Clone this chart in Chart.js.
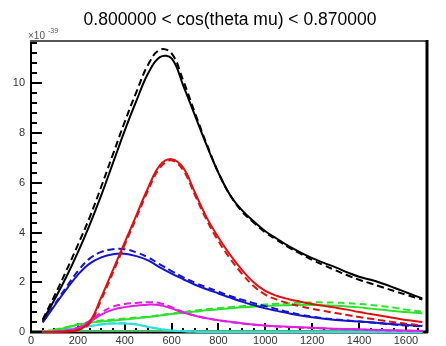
<!DOCTYPE html>
<html>
<head>
<meta charset="utf-8">
<script src="https://cdn.jsdelivr.net/npm/chart.js@4.4.1/dist/chart.umd.min.js"></script>
<style>
  html, body { margin: 0; padding: 0; background: #fff; }
  #wrap { width: 446px; height: 346px; }
</style>
</head>
<body>
<div id="wrap"><canvas id="chart" width="446" height="346"></canvas></div>
<script>
// muon momentum bin centres
const momentum = [50, 100, 150, 200, 250, 300, 350, 400, 450, 500, 550, 600, 650, 700, 750, 800,
  850, 900, 950, 1000, 1050, 1100, 1150, 1200, 1250, 1300, 1350, 1400, 1450, 1500, 1550, 1600, 1670];

// cross sections in units of 1e-39; "Sim" solid, "Ref" dashed
const totalSim = [0.45, 1.3, 2.2, 3.2, 4.3, 5.5, 6.8, 8.1, 9.3, 10.4, 11.05, 11.0, 9.9, 8.7, 7.5, 6.4,
  5.5, 4.9, 4.45, 4.05, 3.75, 3.45, 3.2, 2.97, 2.78, 2.6, 2.4, 2.22, 2.1, 1.95, 1.78, 1.6, 1.35];
const totalRef = [0.5, 1.45, 2.45, 3.5, 4.6, 5.85, 7.15, 8.45, 9.65, 10.75, 11.35, 11.2, 10.1, 8.8, 7.55, 6.4,
  5.5, 4.85, 4.4, 4.0, 3.7, 3.4, 3.15, 2.9, 2.68, 2.48, 2.28, 2.1, 1.95, 1.8, 1.65, 1.5, 1.3];

const qeSim = [0.0, 0.0, 0.02, 0.08, 0.4, 1.4, 2.5, 3.6, 4.7, 5.8, 6.7, 6.95, 6.6, 5.6, 4.6, 3.8,
  3.1, 2.5, 2.0, 1.65, 1.45, 1.32, 1.22, 1.13, 1.05, 0.98, 0.9, 0.8, 0.72, 0.64, 0.56, 0.48, 0.4];
const qeRef = [0.0, 0.0, 0.02, 0.08, 0.35, 1.3, 2.4, 3.5, 4.6, 5.7, 6.6, 6.9, 6.5, 5.5, 4.5, 3.65,
  2.95, 2.35, 1.85, 1.5, 1.3, 1.15, 1.03, 0.93, 0.84, 0.76, 0.68, 0.6, 0.53, 0.46, 0.39, 0.33, 0.27];

const resSim = [0.38, 1.05, 1.7, 2.3, 2.75, 3.0, 3.13, 3.15, 3.05, 2.88, 2.6, 2.35, 2.12, 1.9, 1.72, 1.55,
  1.38, 1.22, 1.08, 0.95, 0.85, 0.75, 0.66, 0.59, 0.53, 0.48, 0.45, 0.42, 0.39, 0.35, 0.31, 0.28, 0.24];
const resRef = [0.4, 1.1, 1.8, 2.45, 2.95, 3.22, 3.33, 3.33, 3.2, 3.0, 2.72, 2.45, 2.2, 1.98, 1.8, 1.62,
  1.45, 1.3, 1.16, 1.04, 0.92, 0.8, 0.7, 0.62, 0.55, 0.5, 0.46, 0.42, 0.38, 0.34, 0.3, 0.26, 0.22];

const mecSim = [0.0, 0.02, 0.05, 0.15, 0.4, 0.7, 0.9, 1.0, 1.06, 1.1, 1.08, 0.95, 0.78, 0.65, 0.55, 0.47,
  0.41, 0.35, 0.3, 0.26, 0.23, 0.21, 0.19, 0.17, 0.15, 0.13, 0.12, 0.11, 0.09, 0.08, 0.07, 0.06, 0.05];
const mecRef = [0.0, 0.02, 0.06, 0.17, 0.45, 0.78, 1.02, 1.13, 1.17, 1.2, 1.16, 1.0, 0.8, 0.66, 0.55, 0.47,
  0.4, 0.34, 0.29, 0.25, 0.22, 0.2, 0.18, 0.16, 0.14, 0.12, 0.11, 0.1, 0.08, 0.07, 0.06, 0.05, 0.04];

const disSim = [0.02, 0.08, 0.17, 0.29, 0.37, 0.42, 0.46, 0.5, 0.55, 0.6, 0.66, 0.72, 0.77, 0.82, 0.87, 0.91,
  0.95, 0.99, 1.02, 1.05, 1.07, 1.08, 1.09, 1.09, 1.08, 1.06, 1.03, 0.99, 0.94, 0.89, 0.84, 0.8, 0.75];
const disRef = [0.02, 0.09, 0.19, 0.31, 0.4, 0.46, 0.5, 0.54, 0.58, 0.62, 0.68, 0.74, 0.8, 0.86, 0.91, 0.96,
  1.0, 1.04, 1.08, 1.11, 1.14, 1.16, 1.18, 1.19, 1.19, 1.18, 1.16, 1.13, 1.09, 1.04, 0.98, 0.9, 0.82];

const cohSim = [0.02, 0.05, 0.1, 0.16, 0.23, 0.3, 0.34, 0.34, 0.3, 0.2, 0.12, 0.06, 0.03, 0.01, 0.0, 0.0,
  0.0, 0.0, 0.0, 0.0, 0.0, 0.0, 0.0, 0.0, 0.0, 0.0, 0.0, 0.0, 0.0, 0.0, 0.0, 0.0, 0.0];
const cohRef = [0.02, 0.05, 0.11, 0.17, 0.24, 0.31, 0.35, 0.35, 0.31, 0.21, 0.12, 0.06, 0.03, 0.01, 0.0, 0.0,
  0.0, 0.0, 0.0, 0.0, 0.0, 0.0, 0.0, 0.0, 0.0, 0.0, 0.0, 0.0, 0.0, 0.0, 0.0, 0.0, 0.0];

const ncSim = [0.02, 0.03, 0.04, 0.04, 0.04, 0.04, 0.04, 0.04, 0.04, 0.04, 0.04, 0.04, 0.04, 0.04, 0.04, 0.04,
  0.04, 0.04, 0.04, 0.04, 0.04, 0.04, 0.04, 0.04, 0.04, 0.04, 0.04, 0.04, 0.04, 0.03, 0.03, 0.03, 0.03];

const xTicks = { min: 0, max: 1690, major: 200, minor: 50 };
const yTicks = { min: 0, max: 11.7, major: 2, minor: 0.4 };

const FONT = "'Liberation Sans', Arial, Helvetica, sans-serif";

function series(values, color, dashed) {
  return {
    data: momentum.map((x, i) => ({ x, y: values[i] })),
    borderColor: color,
    borderWidth: 2,
    borderDash: dashed ? [7, 4] : [],
    pointRadius: 0,
    tension: 0.4,
    clip: 4,
    fill: false,
  };
}

// axes, inner tick marks and the frame, ROOT style
const framePlugin = {
  id: "frame",
  beforeDatasetsDraw(chart) {
    const { ctx, chartArea: a, scales } = chart;
    const x = scales.x, y = scales.y;
    ctx.save();
    ctx.strokeStyle = "#000";
    ctx.lineWidth = 2;
    ctx.beginPath();
    for (let v = xTicks.min; v <= xTicks.max + 1e-6; v += xTicks.minor) {
      const px = Math.round(x.getPixelForValue(v));
      const len = Math.abs(v % xTicks.major) < 1e-6 ? 9 : 4;
      ctx.moveTo(px, a.bottom);
      ctx.lineTo(px, a.bottom - len);
    }
    for (let v = yTicks.min; v <= yTicks.max + 1e-6; v += yTicks.minor) {
      const py = Math.round(y.getPixelForValue(v));
      const r = v / yTicks.major;
      const len = Math.abs(r - Math.round(r)) < 1e-6 ? 11 : 6;
      ctx.moveTo(a.left, py);
      ctx.lineTo(a.left + len, py);
    }
    ctx.stroke();

    ctx.lineWidth = 2;
    ctx.beginPath();
    ctx.moveTo(a.left, a.top);
    ctx.lineTo(a.left, a.bottom);
    ctx.stroke();
    ctx.lineWidth = 3;
    ctx.beginPath();
    ctx.moveTo(a.left - 1, a.bottom);
    ctx.lineTo(a.right + 1, a.bottom);
    ctx.stroke();
    ctx.restore();
  },
  afterDatasetsDraw(chart) {
    const { ctx, chartArea: a } = chart;
    ctx.save();
    ctx.strokeStyle = "#555";
    ctx.lineWidth = 2;
    ctx.beginPath();
    ctx.moveTo(a.left - 1, a.top);
    ctx.lineTo(a.right, a.top);
    ctx.stroke();
    ctx.strokeStyle = "#000";
    ctx.lineWidth = 3;
    ctx.beginPath();
    ctx.moveTo(a.right, a.top - 1);
    ctx.lineTo(a.right, a.bottom + 1);
    ctx.stroke();

    // title and exponent
    ctx.fillStyle = "#000";
    ctx.font = "17.5px " + FONT;
    ctx.textAlign = "center";
    ctx.textBaseline = "alphabetic";
    ctx.fillText("0.800000 < cos(theta mu) < 0.870000", 230, 25);

    ctx.fillStyle = "#555";
    ctx.textAlign = "left";
    ctx.font = "10px " + FONT;
    ctx.fillText("\u00d710", 28, 39);
    ctx.font = "7px " + FONT;
    ctx.fillText("-39", 48, 33);
    ctx.restore();
  },
};

new Chart(document.getElementById("chart"), {
  type: "line",
  data: {
    datasets: [
      series(totalSim, "#000000", false),
      series(totalRef, "#000000", true),
      series(qeSim, "#e01010", false),
      series(qeRef, "#e01010", true),
      series(resSim, "#1414c8", false),
      series(resRef, "#1414c8", true),
      series(mecSim, "#e020e0", false),
      series(mecRef, "#e020e0", true),
      series(disSim, "#2ee02e", false),
      series(disRef, "#2ee02e", true),
      series(cohSim, "#30dede", false),
      series(cohRef, "#30dede", true),
      series(ncSim, "#4cb36a", false),
    ],
  },
  plugins: [framePlugin],
  options: {
    responsive: false,
    animation: false,
    layout: { padding: { left: 0, right: 19, top: 41, bottom: 0 } },
    plugins: { legend: { display: false }, title: { display: false }, tooltip: { enabled: false } },
    scales: {
      x: {
        type: "linear",
        min: xTicks.min,
        max: xTicks.max,
        grid: { display: false, drawTicks: false },
        border: { display: false },
        afterFit(scale) { scale.height = 14; },
        ticks: {
          stepSize: xTicks.major,
          includeBounds: false,
          autoSkip: false,
          maxRotation: 0,
          padding: 2,
          color: "#333",
          font: { family: FONT, size: 11 },
          callback: (v) => String(v),
        },
      },
      y: {
        min: yTicks.min,
        max: yTicks.max,
        grid: { display: false, drawTicks: false },
        border: { display: false },
        afterFit(scale) { scale.width = 31; },
        ticks: {
          stepSize: yTicks.major,
          includeBounds: false,
          padding: 6,
          color: "#333",
          font: { family: FONT, size: 11 },
          callback: (v) => String(v),
        },
      },
    },
  },
});
</script>
</body>
</html>
